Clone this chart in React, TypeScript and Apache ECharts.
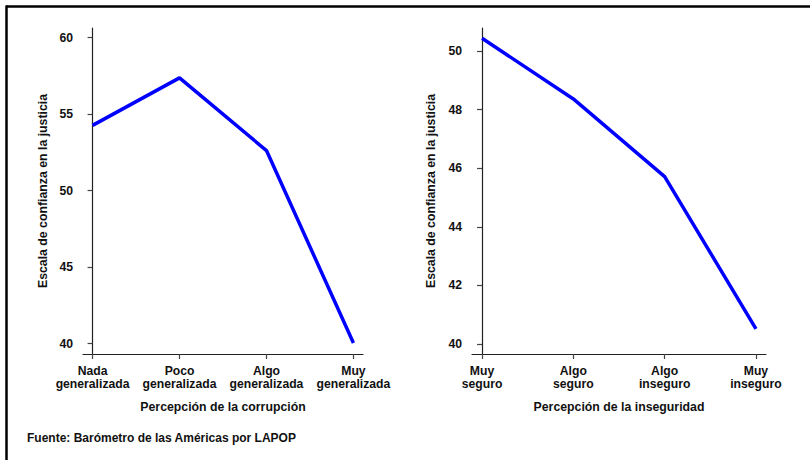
import React, { useEffect, useRef } from "react";
import * as echarts from "echarts";

const corruptionCategories = ["Nada\ngeneralizada", "Poco\ngeneralizada", "Algo\ngeneralizada", "Muy\ngeneralizada"];
const corruptionValues = [54.27, 57.37, 52.62, 40.05];
const corruptionTicks = [40, 45, 50, 55, 60];

const insecurityCategories = ["Muy\nseguro", "Algo\nseguro", "Algo\ninseguro", "Muy\ninseguro"];
const insecurityValues = [50.43, 48.36, 45.71, 40.52];
const insecurityTicks = [40, 42, 44, 46, 48, 50];

const yTitle = "Escala de confianza en la justicia";
const xTitleLeft = "Percepción de la corrupción";
const xTitleRight = "Percepción de la inseguridad";
const source = "Fuente: Barómetro de las Américas por LAPOP";

const FONT = "'Liberation Sans', Arial, Helvetica, sans-serif";
const TEXT = "#111";

export default function App() {
  const ref = useRef<HTMLDivElement>(null);
  useEffect(() => {
    if (!ref.current) return;
    const chart = echarts.init(ref.current, undefined, { renderer: "svg" });

    const xAxisFor = (gridIndex: number, cats: string[], name: string) => ({
      type: "value",
      gridIndex,
      min: -0.11,
      max: 3.11,
      name,
      nameLocation: "middle",
      nameGap: 47,
      nameTextStyle: { fontFamily: FONT, fontWeight: "bold", fontSize: 12.3, color: TEXT },
      axisLine: { show: true, lineStyle: { color: "#222", width: 1.2 } },
      axisTick: { show: true, length: 5, customValues: [0, 1, 2, 3], lineStyle: { color: "#444", width: 1.2 } },
      axisLabel: {
        customValues: [0, 1, 2, 3],
        formatter: (v: number) => cats[Math.round(v)] ?? "",
        fontFamily: FONT,
        fontWeight: "bold",
        fontSize: 12.2,
        lineHeight: 13,
        color: TEXT,
        margin: 10,
      },
      splitLine: { show: false },
    });

    const yAxisFor = (gridIndex: number, min: number, max: number, ticks: number[], gap: number) => ({
      type: "value",
      gridIndex,
      min,
      max,
      name: yTitle,
      nameLocation: "middle",
      nameGap: gap,
      nameRotate: 90,
      nameTextStyle: { fontFamily: FONT, fontWeight: "bold", fontSize: 12.3, color: TEXT },
      axisLine: { show: true, lineStyle: { color: "#222", width: 1.2 } },
      axisTick: { show: true, length: 5, customValues: ticks, lineStyle: { color: "#444", width: 1.2 } },
      axisLabel: {
        customValues: ticks,
        fontFamily: FONT,
        fontWeight: "bold",
        fontSize: 12.2,
        color: TEXT,
        margin: 10,
      },
      splitLine: { show: false },
    });

    chart.setOption({
      animation: false,
      backgroundColor: "#fff",
      grid: [
        { left: 83, top: 28, width: 280, height: 326 },
        { left: 472, top: 28, width: 294, height: 326 },
      ],
      xAxis: [
        xAxisFor(0, corruptionCategories, xTitleLeft),
        xAxisFor(1, insecurityCategories, xTitleRight),
      ],
      yAxis: [
        yAxisFor(0, 39.33, 60.63, corruptionTicks, 34),
        yAxisFor(1, 39.66, 50.78, insecurityTicks, 35),
      ],
      series: [
        {
          type: "line",
          xAxisIndex: 0,
          yAxisIndex: 0,
          data: corruptionValues.map((v, i) => [i, v]),
          symbol: "none",
          lineStyle: { color: "#0000ff", width: 3.5 },
        },
        {
          type: "line",
          xAxisIndex: 1,
          yAxisIndex: 1,
          data: insecurityValues.map((v, i) => [i, v]),
          symbol: "none",
          lineStyle: { color: "#0000ff", width: 3.5 },
        },
      ],
      graphic: [
        { type: "line", shape: { x1: 6, y1: 6.5, x2: 810, y2: 6.5 }, style: { stroke: "#000", lineWidth: 2.5 } },
        { type: "line", shape: { x1: 6.5, y1: 5.5, x2: 6.5, y2: 460 }, style: { stroke: "#000", lineWidth: 2.5 } },
        {
          type: "text",
          left: 27,
          top: 432,
          style: { text: source, fontFamily: FONT, fontWeight: "bold", fontSize: 12, fill: TEXT },
        },
      ],
    });
    return () => chart.dispose();
  }, []);
  return (
    <div
      ref={ref}
      style={{ position: "fixed", left: 0, top: 0, width: 810, height: 460, background: "#fff" }}
    />
  );
}
